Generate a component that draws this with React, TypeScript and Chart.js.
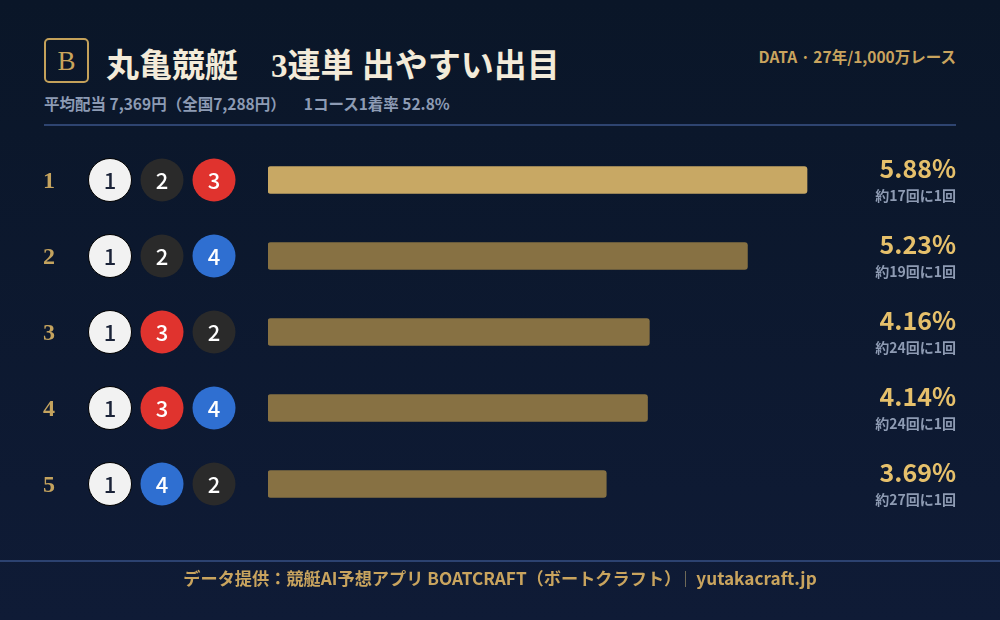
import React, { useEffect, useRef } from "react";
import { Chart, registerables } from "chart.js";

Chart.register(...registerables);

const ranks = ["1", "2", "3", "4", "5"];
const combos = [
  [1, 2, 3],
  [1, 2, 4],
  [1, 3, 2],
  [1, 3, 4],
  [1, 4, 2],
];
const rates = [5.88, 5.23, 4.16, 4.14, 3.69];
const oddsLabels = ["約17回に1回", "約19回に1回", "約24回に1回", "約24回に1回", "約27回に1回"];

const SANS = '"Noto Sans CJK JP", "Noto Sans", sans-serif';
const SERIF = '"Liberation Serif", "DejaVu Serif", "Noto Sans CJK JP", serif';

const boatFill: Record<number, string> = { 1: "#f2f2f2", 2: "#2a2a2a", 3: "#e0332e", 4: "#2f6fd1" };
const boatText: Record<number, string> = { 1: "#1b2338", 2: "#ffffff", 3: "#ffffff", 4: "#ffffff" };

const rowPlugin = {
  id: "rowDecor",
  afterDatasetsDraw(chart: any) {
    const ctx = chart.ctx as CanvasRenderingContext2D;
    const yScale = chart.scales.y;
    ctx.save();
    ranks.forEach((r, i) => {
      const y = yScale.getPixelForValue(i);
      // rank
      ctx.fillStyle = "#c4a35e";
      ctx.font = `bold 24px ${SERIF}`;
      ctx.textAlign = "center";
      ctx.textBaseline = "middle";
      ctx.fillText(r, 49, y + 2);
      // boats
      combos[i].forEach((b, j) => {
        const cx = 110 + j * 52;
        ctx.beginPath();
        ctx.arc(cx, y, 21.5, 0, Math.PI * 2);
        ctx.fillStyle = boatFill[b];
        ctx.fill();
        if (b === 1) {
          ctx.lineWidth = 1;
          ctx.strokeStyle = "#000000";
          ctx.stroke();
        }
        ctx.fillStyle = boatText[b];
        ctx.font = `500 22px ${SANS}`;
        ctx.textAlign = "center";
        ctx.textBaseline = "middle";
        ctx.fillText(String(b), cx, y + 1);
      });
      // percent labels
      ctx.textAlign = "right";
      ctx.textBaseline = "middle";
      ctx.fillStyle = "#e6c06b";
      ctx.font = `600 25px ${SANS}`;
      ctx.fillText(rates[i].toFixed(2) + "%", 956, y - 12);
      ctx.fillStyle = "#8e9bb3";
      ctx.font = `600 14px ${SANS}`;
      ctx.fillText(oddsLabels[i], 956, y + 16);
    });
    ctx.restore();
  },
};

export default function App() {
  const ref = useRef<HTMLCanvasElement | null>(null);

  useEffect(() => {
    if (!ref.current) return;
    const chart = new Chart(ref.current, {
      type: "bar",
      data: {
        labels: ranks,
        datasets: [
          {
            data: rates,
            backgroundColor: rates.map((_, i) => (i === 0 ? "#c8a864" : "#877143")),
            borderRadius: 3,
            borderSkipped: false,
            barThickness: 27,
          },
        ],
      },
      options: {
        indexAxis: "y",
        animation: false,
        responsive: false,
        maintainAspectRatio: false,
        layout: { padding: { left: 268, right: 182, top: 142, bottom: 98 } },
        plugins: { legend: { display: false }, tooltip: { enabled: false } },
        scales: {
          x: { display: false, min: 0, max: 6 },
          y: { display: false },
        },
      },
      plugins: [rowPlugin],
    });
    return () => chart.destroy();
  }, []);

  return (
    <div
      style={{
        position: "absolute",
        left: 0,
        top: 0,
        width: 1000,
        height: 620,
        overflow: "hidden",
        background: "linear-gradient(180deg, #0a1628 0%, #0f1b36 100%)",
        fontFamily: SANS,
      }}
    >
      {/* badge */}
      <div
        style={{
          position: "absolute",
          left: 44,
          top: 38,
          width: 41,
          height: 41,
          border: "2px solid #c4a15a",
          borderRadius: 5,
          color: "#c9a55c",
          fontFamily: SERIF,
          fontSize: 27,
          lineHeight: "42px",
          textAlign: "center",
        }}
      >
        B
      </div>
      <div
        style={{
          position: "absolute",
          left: 106,
          top: 43,
          fontSize: 33,
          lineHeight: "46px",
          fontWeight: 700,
          color: "#f3ebd9",
          fontFamily: SERIF,
          whiteSpace: "pre",
        }}
      >
        丸亀競艇　3連単 出やすい出目
      </div>
      <div
        style={{
          position: "absolute",
          right: 44,
          top: 45,
          fontSize: 15.5,
          lineHeight: "22px",
          fontWeight: 700,
          color: "#c9a45e",
          whiteSpace: "pre",
        }}
      >
        DATA · 27年/1,000万レース
      </div>
      <div
        style={{
          position: "absolute",
          left: 44,
          top: 91,
          fontSize: 15.5,
          lineHeight: "24px",
          fontWeight: 700,
          color: "#8d9bb4",
          whiteSpace: "pre",
        }}
      >
        平均配当 7,369円（全国7,288円）<span style={{ marginLeft: 18 }}>1コース1着率 52.8%</span>
      </div>
      <div
        style={{ position: "absolute", left: 44, top: 124, width: 912, height: 2, background: "#2e4470" }}
      />
      <canvas
        ref={ref}
        width={1000}
        height={620}
        style={{ position: "absolute", left: 0, top: 0, width: 1000, height: 620 }}
      />
      <div
        style={{ position: "absolute", left: 0, top: 560, width: 1000, height: 2, background: "#2c4270" }}
      />
      <div
        style={{
          position: "absolute",
          left: 0,
          top: 566,
          width: 1000,
          textAlign: "center",
          fontSize: 17.2,
          lineHeight: "24px",
          fontWeight: 700,
          color: "#c9a45e",
          whiteSpace: "pre",
        }}
      >
        データ提供：競艇AI予想アプリ BOATCRAFT（ボートクラフト）
        <span
          style={{
            display: "inline-block",
            width: 1,
            height: 16,
            background: "#6f6a58",
            margin: "0 10px 0 4px",
            verticalAlign: "-2px",
          }}
        />
        yutakacraft.jp
      </div>
    </div>
  );
}
